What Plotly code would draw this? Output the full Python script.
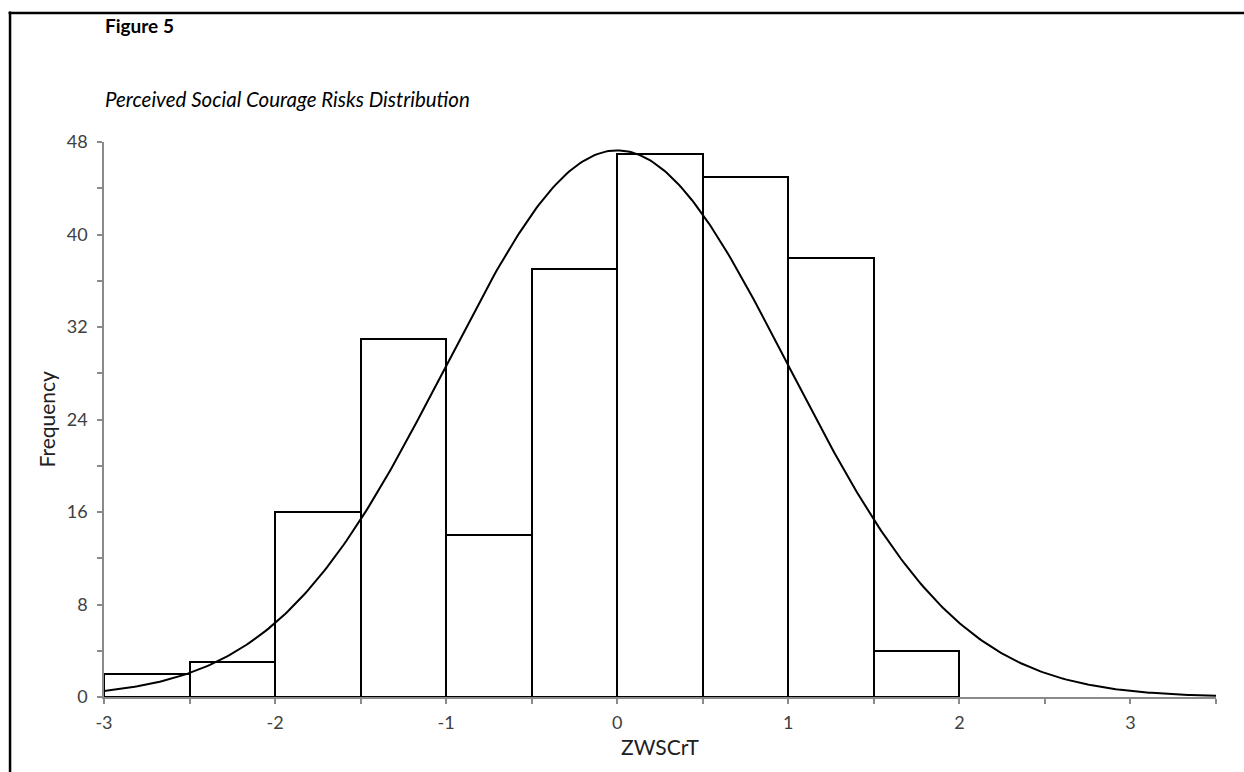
import numpy as np
import plotly.graph_objects as go

# Histogram data
bin_left = [-3.0, -2.5, -2.0, -1.5, -1.0, -0.5, 0.0, 0.5, 1.0, 1.5]
counts = [2, 3, 16, 31, 14, 37, 47, 45, 38, 4]
bin_width = 0.5

# Fitted normal curve parameters (z-scores: mean 0, sd 1)
curve_mean = 0.0
curve_sd = 1.0

x_ticks = [-3, -2, -1, 0, 1, 2, 3]
y_ticks = [0, 8, 16, 24, 32, 40, 48]

n_total = sum(counts)
xc = np.linspace(-3.0, 3.5, 400)
yc = n_total * bin_width * np.exp(-0.5 * ((xc - curve_mean) / curve_sd) ** 2) / (curve_sd * np.sqrt(2 * np.pi))

FONT = "Lato"
TXT = "#404040"
AX = "#8a8a8a"

fig = go.Figure()
fig.add_trace(go.Bar(
    x=bin_left, y=counts, width=bin_width, offset=0,
    marker=dict(color="white", line=dict(color="black", width=2)),
    showlegend=False, hoverinfo="x+y",
))
fig.add_trace(go.Scatter(
    x=xc, y=yc, mode="lines", line=dict(color="black", width=2),
    showlegend=False, hoverinfo="skip",
))

fig.update_layout(
    width=1244, height=772,
    margin=dict(l=104, r=28, t=142, b=75),
    paper_bgcolor="white", plot_bgcolor="white",
    font=dict(family=FONT, size=18, color=TXT),
    bargap=0,
    xaxis=dict(
        range=[-3, 3.5], tickvals=x_ticks, ticktext=[str(v) for v in x_ticks],
        showgrid=False, zeroline=False,
        showline=True, linecolor=AX, linewidth=1.5,
        ticks="outside", ticklen=5, tickcolor=AX, tickwidth=1.5,
        minor=dict(dtick=0.5, ticks="outside", ticklen=5, tickcolor=AX, tickwidth=1.5, showgrid=False),
        tickfont=dict(family=FONT, size=18, color=TXT),
        ticklabelstandoff=4,
        title=dict(text="ZWSCrT", font=dict(family=FONT, size=21, color="#202020"), standoff=8),
    ),
    yaxis=dict(
        range=[0, 48], tickvals=y_ticks, ticktext=[str(v) for v in y_ticks],
        showgrid=False, zeroline=False,
        showline=True, linecolor=AX, linewidth=1.5,
        ticks="outside", ticklen=5, tickcolor=AX, tickwidth=1.5,
        minor=dict(dtick=4, ticks="outside", ticklen=5, tickcolor=AX, tickwidth=1.5, showgrid=False),
        tickfont=dict(family=FONT, size=18, color=TXT),
        ticklabelstandoff=6,
    ),
    annotations=[
        dict(text="Frequency", xref="paper", yref="paper", x=(46 - 104) / 1112, y=0.5,
             xanchor="center", yanchor="middle", textangle=-90, showarrow=False,
             font=dict(family=FONT, size=21, color="#202020")),
        dict(text="<b>Figure 5</b>", xref="paper", yref="paper", x=-0.001, y=(697 - 26) / 555,
             xanchor="left", yanchor="middle", showarrow=False,
             font=dict(family=FONT, size=19, color="black")),
        dict(text="<i>Perceived Social Courage Risks Distribution</i>", xref="paper", yref="paper",
             x=-0.001, y=(697 - 99) / 555, xanchor="left", yanchor="middle", showarrow=False,
             font=dict(family=FONT, size=20.5, color="black")),
    ],
    shapes=[
        dict(type="line", xref="paper", yref="paper", x0=-0.0845, x1=-0.0845, y0=-0.2, y1=1.235,
             line=dict(color="black", width=2.5)),
        dict(type="line", xref="paper", yref="paper", x0=-0.0858, x1=1.2, y0=1.2326, y1=1.2326,
             line=dict(color="black", width=2.5)),
    ],
)

fig.write_html("out.html")
